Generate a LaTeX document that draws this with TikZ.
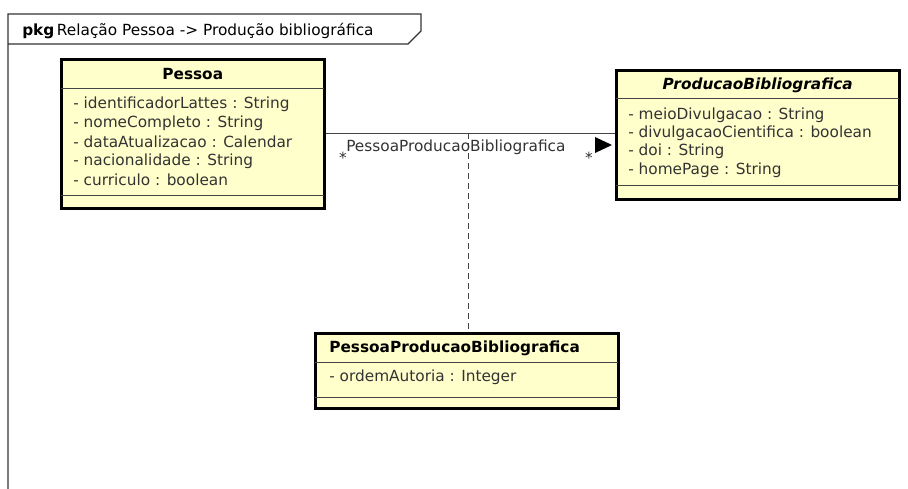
\documentclass[tikz,border=0pt]{standalone}
\usepackage{fontspec}
\setmainfont{DejaVu Sans}
\usetikzlibrary{calc}
\newdimen\px \px=0.75pt
\definecolor{classfill}{HTML}{FFFFCC}
\definecolor{linegray}{HTML}{444444}
\definecolor{textgray}{HTML}{333333}
\definecolor{framegray}{HTML}{333333}
\tikzset{
  classbox/.style={rectangle, fill=classfill, draw=black, line width=2.5\px, inner sep=0pt, anchor=north west},
  sepline/.style={draw=linegray, line width=1\px, shorten <=1.2\px, shorten >=1.2\px},
  txt/.style={inner sep=0pt, font=\fontsize{11.5pt}{14pt}\selectfont, text=textgray},
  attr/.style={txt, anchor=west},
  hdr/.style={inner sep=0pt, font=\fontsize{11.5pt}{14pt}\selectfont\bfseries, text=black},
  assoc/.style={draw=linegray, line width=1\px},
  dashline/.style={draw=linegray, line width=1\px, dash pattern=on 4.5pt off 3pt},
  framepen/.style={draw=framegray, line width=1.2\px},
}
\begin{document}
\begin{tikzpicture}[x=0.75pt, y=-0.75pt]
\useasboundingbox (0,0) rectangle (908,489);

% package frame and its name tab
\coordinate (ftl) at (8,14);
\coordinate (fbl) at (8,489);
\coordinate (tabtr) at (421,14);
\coordinate (tabr) at (421,31);
\coordinate (tabbr) at (408,44);
\coordinate (tabbl) at (8,44);
\draw[framepen] (fbl) -- (ftl) -- (tabtr) -- (tabr) -- (tabbr) -- (tabbl);
\node[attr, text=black] (frametitle) at (22,31) {\textbf{pkg}\,Relação Pessoa -> Produção bibliográfica};

% class Pessoa
\node[classbox, minimum width=263\px, minimum height=149\px] (pessoa) at (60,58) {};
\draw[sepline] ([yshift=-30\px]pessoa.north west) -- ([yshift=-30\px]pessoa.north east);
\draw[sepline] ([yshift=14\px]pessoa.south west) -- ([yshift=14\px]pessoa.south east);
\node[hdr] (pessoaT) at ($(pessoa.north)+(0,16)$) {Pessoa};
\node[attr] (pa1) at (73,104) {- identificadorLattes : String};
\node[attr] (pa2) at (73,123) {- nomeCompleto : String};
\node[attr] (pa3) at (73,142) {- dataAtualizacao : Calendar};
\node[attr] (pa4) at (73,161) {- nacionalidade : String};
\node[attr] (pa5) at (73,180) {- curriculo : boolean};

% class ProducaoBibliografica (abstract)
\node[classbox, minimum width=283\px, minimum height=129\px] (prod) at (615,69) {};
\draw[sepline] ([yshift=-29\px]prod.north west) -- ([yshift=-29\px]prod.north east);
\draw[sepline] ([yshift=15\px]prod.south west) -- ([yshift=15\px]prod.south east);
\node[hdr] (prodT) at ($(prod.north)+(0,16)$) {\itshape ProducaoBibliografica};
\node[attr] (pb1) at (628,115) {- meioDivulgacao : String};
\node[attr] (pb2) at (628,133) {- divulgacaoCientifica : boolean};
\node[attr] (pb3) at (628,151) {- doi : String};
\node[attr] (pb4) at (628,170) {- homePage : String};

% association class PessoaProducaoBibliografica
\node[classbox, minimum width=303\px, minimum height=75\px] (apb) at (314,332) {};
\draw[sepline] ([yshift=-30\px]apb.north west) -- ([yshift=-30\px]apb.north east);
\draw[sepline] ([yshift=12\px]apb.south west) -- ([yshift=12\px]apb.south east);
\node[hdr, anchor=west] (apbT) at (329,348) {PessoaProducaoBibliografica};
\node[attr] (apb1) at (329,377) {- ordemAutoria : Integer};

% association Pessoa -- ProducaoBibliografica
\draw[assoc] (pessoa.east) -- (prod.west |- pessoa.east);
\coordinate (mid) at (468,133);
\draw[dashline] (mid) -- (mid |- apb.north);
\node[txt, anchor=west] (assocname) at (346,147) {PessoaProducaoBibliografica};
\node[txt] (multA) at (343,158) {*};
\node[txt] (multB) at (589,158) {*};
\fill[black] (595,137) -- (612,145) -- (595,153) -- cycle;
\end{tikzpicture}
\end{document}
